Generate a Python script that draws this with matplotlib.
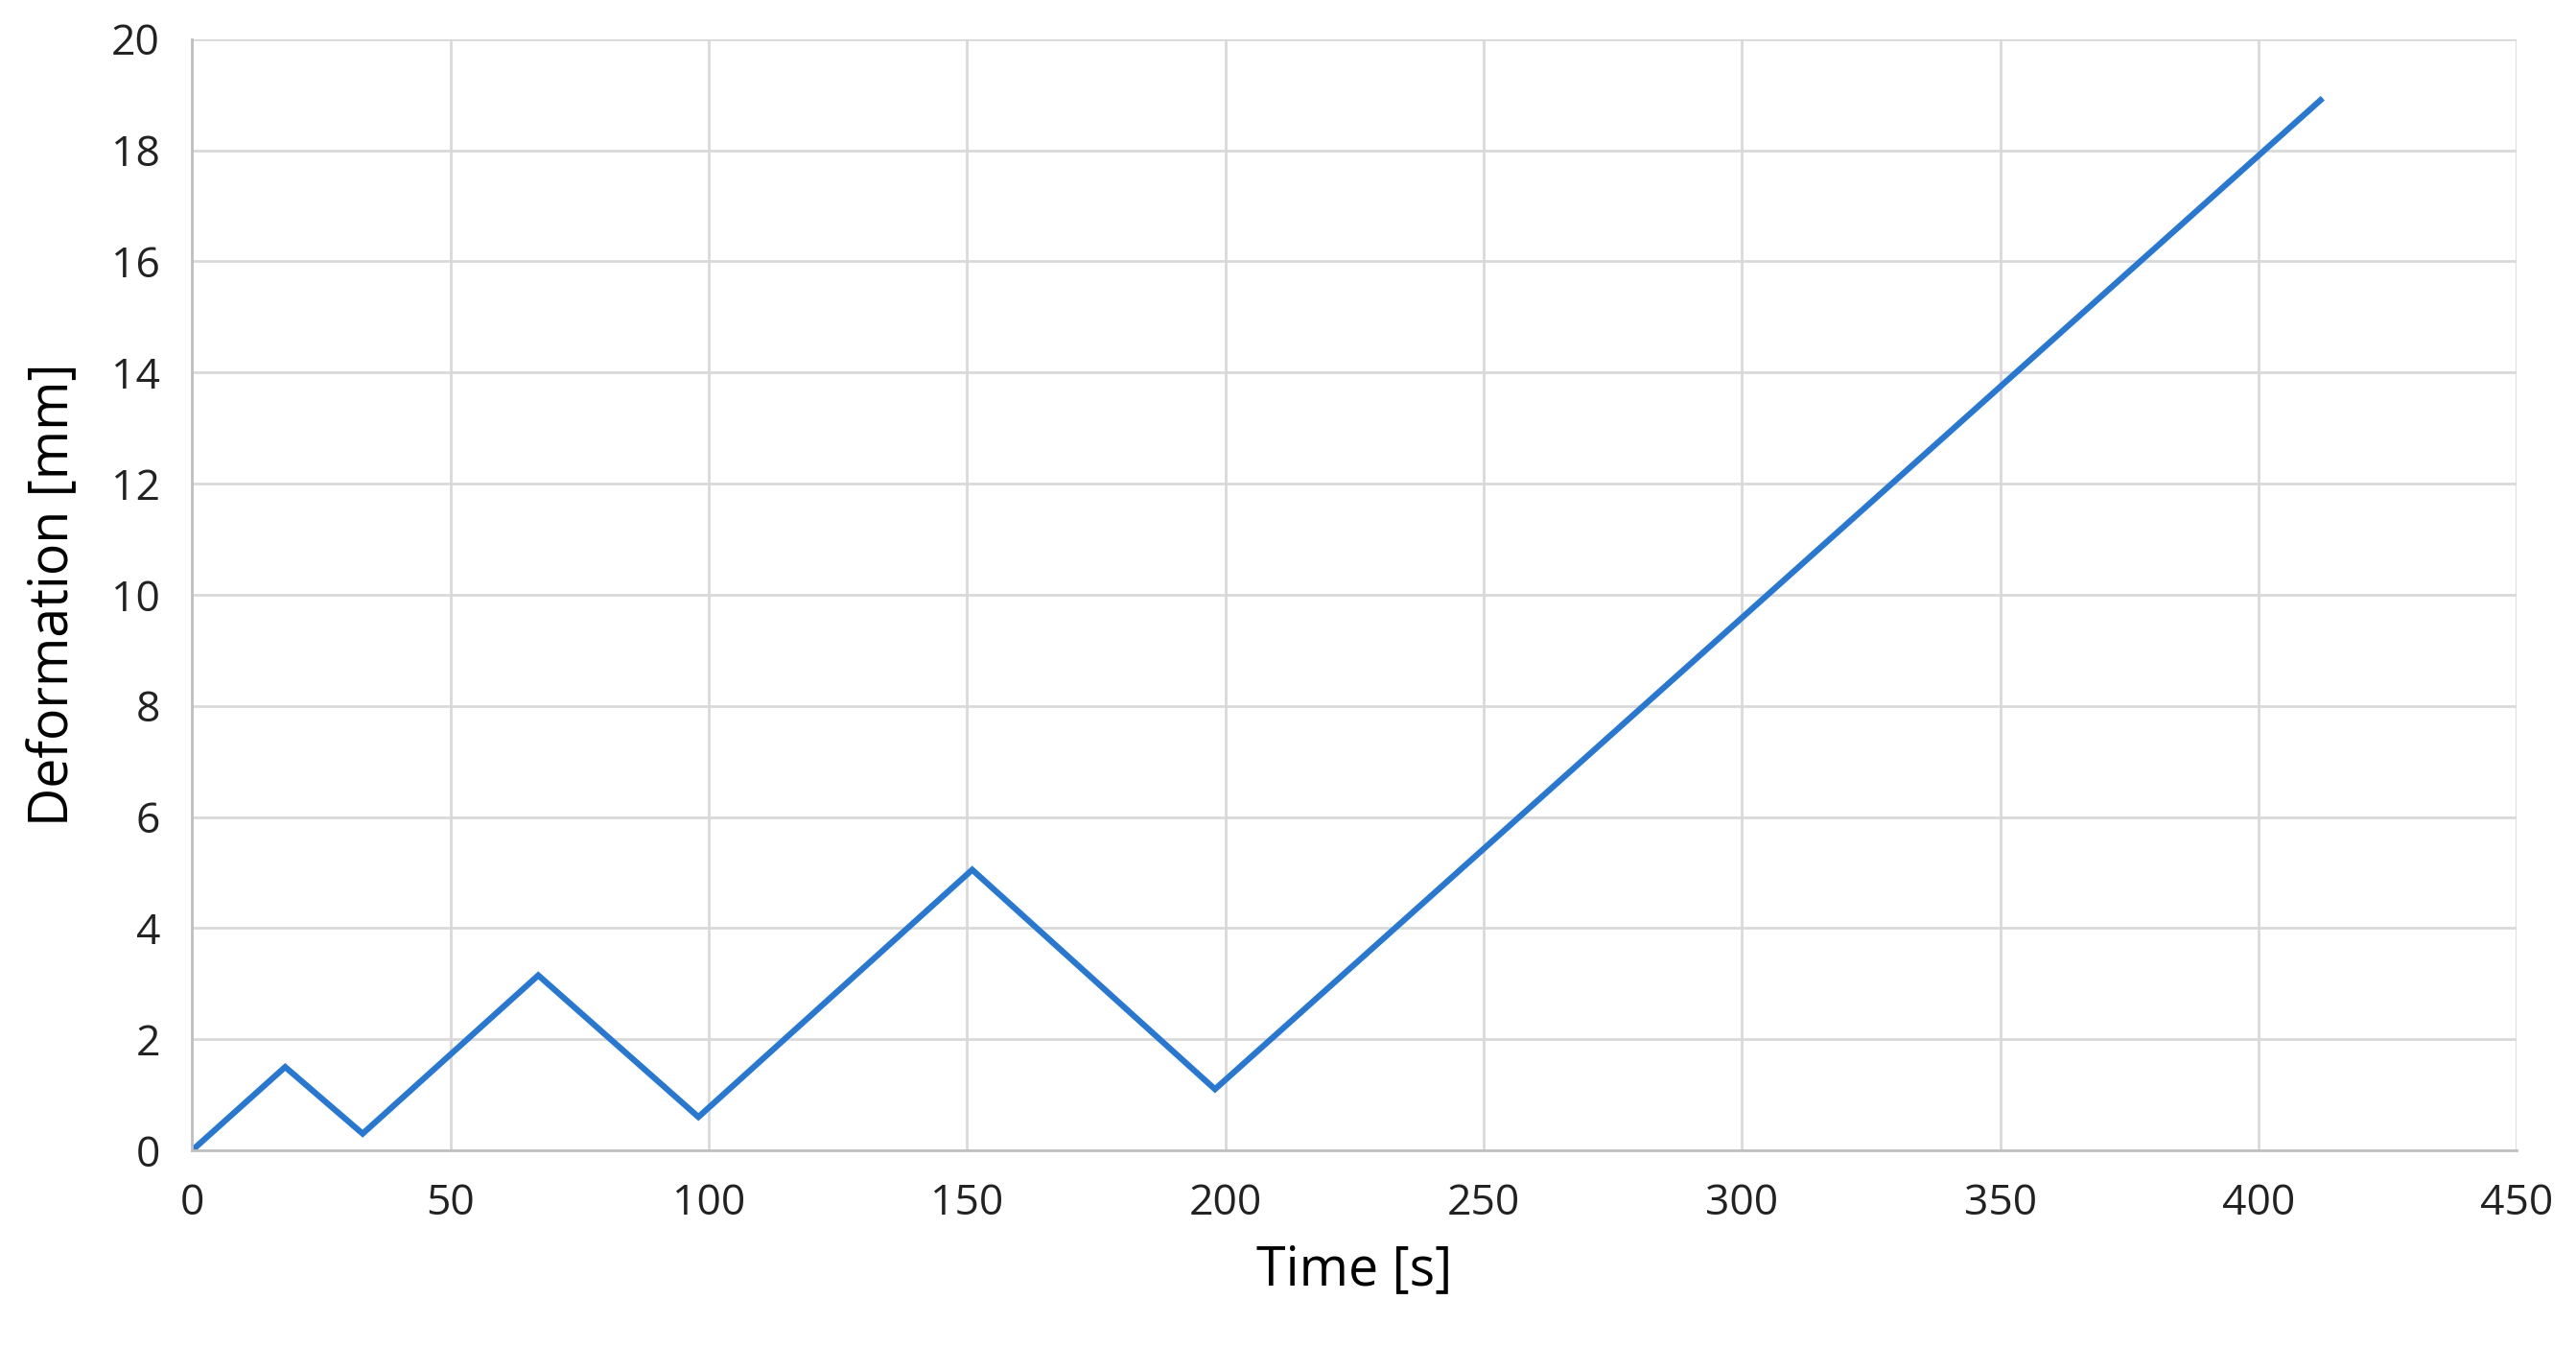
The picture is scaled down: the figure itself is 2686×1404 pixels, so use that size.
import matplotlib
matplotlib.use("Agg")
import matplotlib.pyplot as plt

time_s = [0, 18, 33, 67, 98, 151, 198, 412]
deformation_mm = [0, 1.5, 0.3, 3.15, 0.6, 5.05, 1.1, 18.9]
x_ticks = [0, 50, 100, 150, 200, 250, 300, 350, 400, 450]
y_ticks = [0, 2, 4, 6, 8, 10, 12, 14, 16, 18, 20]

plt.rcParams['font.family'] = ['Open Sans', 'DejaVu Sans']
fig = plt.figure(figsize=(26.86, 14.04), dpi=100)
ax = fig.add_axes([0.0746, 0.146, 0.9024, 0.825])
ax.plot(time_s, deformation_mm, color='#2878d2', lw=4.5, solid_joinstyle='miter')
ax.set_xlim(0, 450)
ax.set_ylim(0, 20)
ax.set_xticks(x_ticks)
ax.set_yticks(y_ticks)
ax.grid(True, color='#d9d9d9', lw=2)
ax.set_axisbelow(True)
for s in ['top', 'right']:
    ax.spines[s].set_visible(False)
for s in ['left', 'bottom']:
    ax.spines[s].set_color('#bfbfbf')
    ax.spines[s].set_linewidth(2)
ax.tick_params(length=0, labelsize=32, colors='#222222', pad=24)
ax.set_xlabel('Time [s]', fontsize=40, labelpad=14)
ax.set_ylabel('Deformation [mm]', fontsize=40, labelpad=22)
fig.savefig('out.png', dpi=100, facecolor='white')
